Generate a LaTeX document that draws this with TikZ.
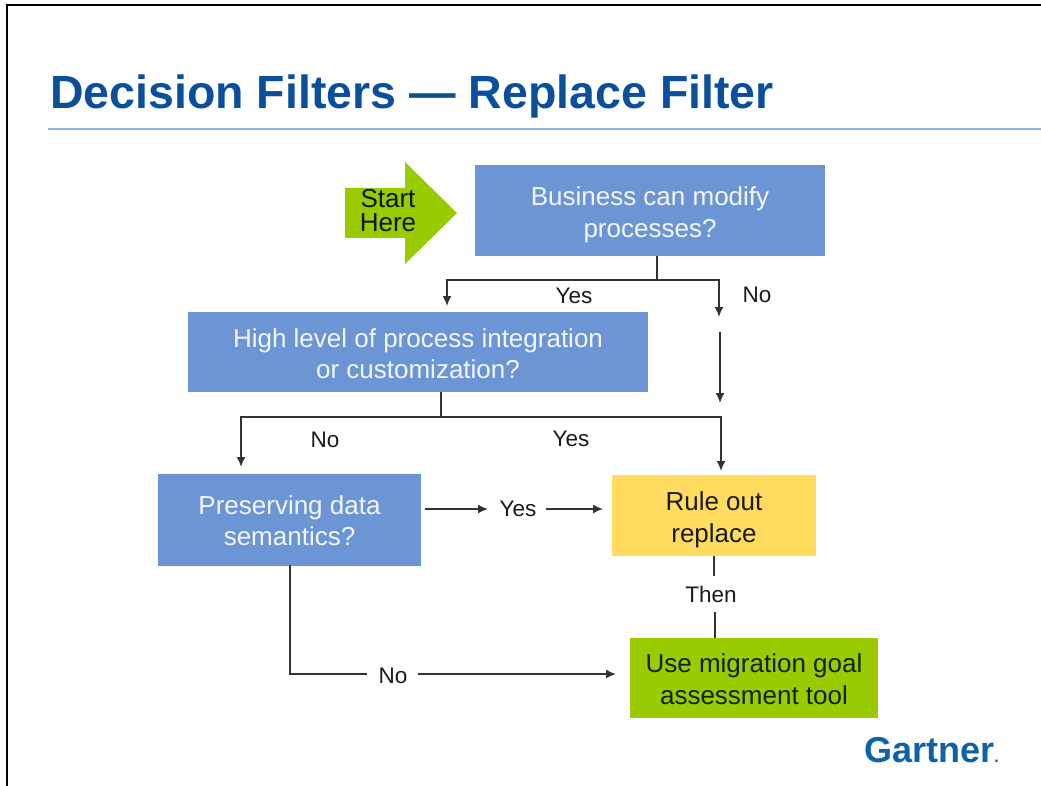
\documentclass[tikz,border=0pt]{standalone}
\usepackage{fontspec}
\setmainfont{Liberation Sans}
\usetikzlibrary{arrows.meta,calc}
\definecolor{boxblue}{HTML}{6C95D6}
\definecolor{titleblue}{HTML}{0A4F9C}
\definecolor{rulingblue}{HTML}{8DB4EA}
\definecolor{boxyellow}{HTML}{FFDB5F}
\definecolor{boxgreen}{HTML}{99CC00}
\definecolor{linegray}{HTML}{333333}
\definecolor{logoblue}{HTML}{0F62A6}
\definecolor{darktext}{HTML}{1A1A1A}
\newcommand{\shiftedtext}[2]{\raisebox{-#1pt}[\height][\depth]{\begin{tabular}{@{}c@{}}#2\end{tabular}}}
\tikzset{
  x=1pt,y=-1pt,
  boxbase/.style={anchor=center,inner sep=0pt,outer sep=0pt,align=center,font=\fontsize{26}{31.5}\selectfont},
  bluebox/.style={boxbase,fill=boxblue,text=white!92!boxblue},
  yellowbox/.style={boxbase,fill=boxyellow,text=darktext},
  greenbox/.style={boxbase,fill=boxgreen,text=black!85!boxgreen},
  lbl/.style={inner sep=0pt,outer sep=0pt,text=darktext,font=\fontsize{22.5}{27}\selectfont},
  conn/.style={draw=linegray,line width=1.6pt},
  arr/.style={conn,-{Latex[length=10pt,width=9pt]}},
}
\begin{document}
\begin{tikzpicture}
\useasboundingbox (0,0) rectangle (1041,786);
\fill[white] (0,0) rectangle (1041,786);
\draw[black,line width=1.6pt] (7,786) -- (7,5) -- (1041,5);
\node[anchor=west,inner sep=0pt,text=titleblue,font=\bfseries\fontsize{46.5}{54}\selectfont] (title) at (50,96) {Decision Filters — Replace Filter};
\coordinate (ruleL) at (48,129);
\coordinate (ruleR) at (1041,129);
\draw[rulingblue,line width=1.6pt] (ruleL) -- (ruleR);

% start arrow
\fill[boxgreen] (345,188) -- (405,188) -- (405,162) -- (457,213) -- (405,264) -- (405,238) -- (345,238) -- cycle;
\node[inner sep=0pt,align=center,text=black!90!boxgreen,font=\fontsize{26}{23.5}\selectfont] (start) at (388,210.5) {Start\\Here};

% boxes
\node[bluebox,minimum width=350pt,minimum height=91pt] (b1) at (650,211) {\shiftedtext{4}{Business can modify\\processes?}};
\node[bluebox,minimum width=460pt,minimum height=80pt] (b2) at (418,352) {\shiftedtext{4.5}{High level of process integration\\or customization?}};
\node[bluebox,minimum width=263pt,minimum height=92pt] (b3) at (289.5,520) {\shiftedtext{3.5}{Preserving data\\semantics?}};
\node[yellowbox,minimum width=204pt,minimum height=81pt] (rule) at (714,515.5) {\shiftedtext{4.5}{Rule out\\replace}};
\node[greenbox,minimum width=248pt,minimum height=80pt] (tool) at (754,678) {\shiftedtext{4}{Use migration goal\\assessment tool}};

% labels
\node[lbl] (yes1) at (574,296) {Yes};
\node[lbl] (no1) at (757,295) {No};
\node[lbl] (no2) at (325,440) {No};
\node[lbl] (yes2) at (571,439) {Yes};
\node[lbl] (yes3) at (518,509) {Yes};
\node[lbl] (then) at (711,594) {Then};
\node[lbl] (no3) at (393,676) {No};

% logo
\node[anchor=west,inner sep=0pt,text=logoblue,font=\bfseries\fontsize{36}{40}\selectfont] (logo) at (864,750) {Gartner{\fontsize{16}{16}\selectfont .}};

% junctions
\coordinate (j1) at (657,280);
\coordinate (j1L) at (447,280);
\coordinate (j1R) at (719,280);
\coordinate (a1L) at (447,306);
\coordinate (a1R) at (719,317);
\coordinate (c1) at (720,332);
\coordinate (c2) at (720,403);
\coordinate (j2) at (441,417);
\coordinate (j2L) at (241,417);
\coordinate (j2R) at (721,417);
\coordinate (a2L) at (241,467);

% connectors
\draw[conn] (b1.south -| j1) -- (j1);
\draw[arr] (j1) -- (j1L) -- (a1L);
\draw[arr] (j1) -- (j1R) -- (a1R);
\draw[arr] (c1) -- (c2);
\draw[conn] (b2.south -| j2) -- (j2);
\draw[arr] (j2) -- (j2L) -- (a2L);
\draw[arr] (j2) -- (j2R) -- (721,471);
\draw[arr] (425,509) -- (488,509);
\draw[arr] (546,509) -- (603,509);
\draw[conn] (714,556) -- (714,576);
\draw[conn] (715,612) -- (715,638);
\draw[conn] (290,565) -- (290,674) -- (367,674);
\draw[arr] (418,674) -- (616,674);
\end{tikzpicture}
\end{document}
